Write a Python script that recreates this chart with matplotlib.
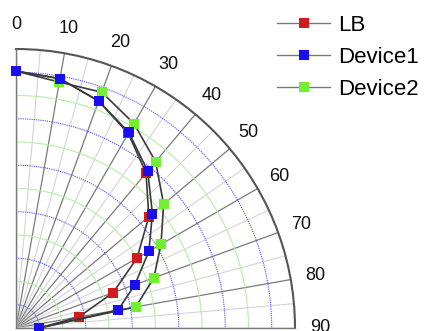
import numpy as np
import matplotlib
matplotlib.use("Agg")
import matplotlib.pyplot as plt

plt.rcParams['font.family'] = ['Liberation Sans', 'DejaVu Sans']

# angulos (graus) e raios medidos para cada serie
angulos = [0, 10, 20, 30, 40, 50, 60, 70, 80, 90]
r_lb = [11.05, 10.89, 10.39, 9.66, 8.70, 7.46, 6.01, 4.44, 2.75, 1.0]
r_dev1 = [11.05, 10.89, 10.39, 9.71, 8.81, 7.66, 6.60, 5.44, 4.46, 1.0]
r_dev2 = [11.05, 10.74, 10.79, 10.15, 9.34, 8.29, 7.20, 6.31, 5.23, 1.0]

rotulos_ang = [0, 10, 20, 30, 40, 50, 60, 70, 80, 90]
circulos = [1, 2, 3, 4, 5, 6, 7, 8, 9, 10, 11]
r_max = 12

fig = plt.figure(figsize=(4.25, 3.31), dpi=100)
ax = fig.add_axes([16/425, 3/331, 279/425, 279/331], projection='polar')
ax.set_theta_zero_location('N')
ax.set_theta_direction(-1)
ax.set_thetamin(0)
ax.set_thetamax(90)
ax.set_ylim(0, r_max)
ax.grid(False)

# marcas no arco externo a cada 5 graus
ax.set_xticks(np.radians(np.arange(0, 91, 5)))
ax.set_xticklabels([])
ax.set_yticks([])
ax.tick_params(axis='x', direction='in', length=5, width=1, color='#555555')

# grade feita a mao: raios a cada 5 graus e circulos azul/verde
for a in range(0, 91, 5):
    cor = '#7a7a7a' if a % 10 == 0 else '#d4d4d4'
    lw = 0.9 if a % 10 == 0 else 0.8
    ax.plot([np.radians(a)] * 2, [0, r_max], color=cor, linewidth=lw, zorder=1)

arco = np.radians(np.linspace(0, 90, 200))
for r in circulos:
    if r % 2 == 1:
        ax.plot(arco, [r] * len(arco), color='#4a4aff', linewidth=0.8,
                linestyle=(0, (1, 1)), zorder=1.5)
    else:
        ax.plot(arco, [r] * len(arco), color='#b4f0a4', linewidth=0.8, zorder=1.5)

ax.spines['polar'].set_color('#555555')
ax.spines['polar'].set_linewidth(1.5)
for s in ['start', 'end']:
    ax.spines[s].set_color('#777777')
    ax.spines[s].set_linewidth(1.0)

# rotulos dos angulos fora do arco
for a in rotulos_ang:
    ax.text(np.radians(a), 13.07, str(a), ha='center', va='center',
            fontsize=13, color='#111111', clip_on=False)

th = np.radians(angulos)
estilo = dict(color='#3a3a3a', linewidth=1.2, marker='s', markersize=7,
              markeredgewidth=0, clip_on=False)
l_lb, = ax.plot(th, r_lb, markerfacecolor='#d01c1c', label='LB', zorder=3, **estilo)
l_d2, = ax.plot(th, r_dev2, markerfacecolor='#70f030', label='Device2', zorder=4, **estilo)
l_d1, = ax.plot(th, r_dev1, markerfacecolor='#1a0df0', label='Device1', zorder=5, **estilo)

leg = fig.legend([l_lb, l_d1, l_d2], ['LB', 'Device1', 'Device2'],
                 loc='upper left', bbox_to_anchor=(277/425, 0.956),
                 frameon=False, fontsize=16, handlelength=2.4,
                 handletextpad=0.35, labelspacing=0.5,
                 borderpad=0, borderaxespad=0)
for h in leg.get_lines():
    h.set_color('#777777')
    h.set_linewidth(1.0)

fig.savefig('out.png', dpi=100)
